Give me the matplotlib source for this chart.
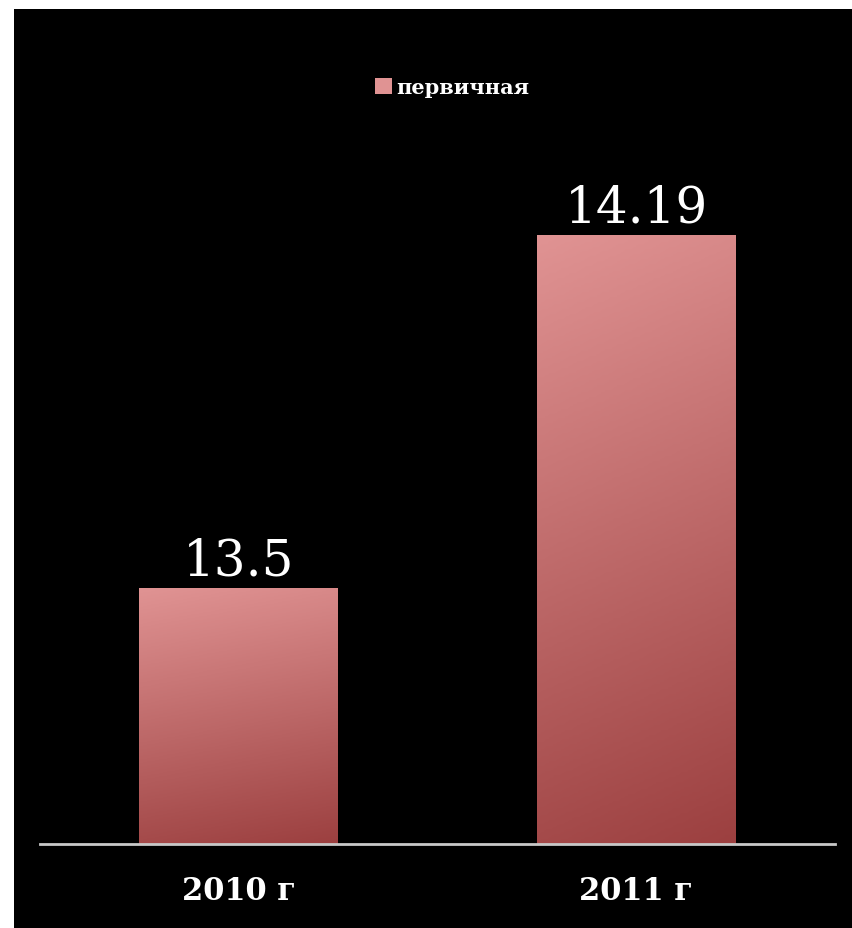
import numpy as np
import matplotlib
matplotlib.use('Agg')
import matplotlib.pyplot as plt
from matplotlib.colors import LinearSegmentedColormap
from matplotlib.patches import Rectangle

# ── Data ─────────────────────────────────────────────────────────
years = ['2010 г', '2011 г']
values = [13.5, 14.19]
series_name = 'первичная'

TOP_COLOR = '#e09393'
BOTTOM_COLOR = '#9c4040'
AXIS_COLOR = '#c8c8c8'

fig = plt.figure(figsize=(8.52, 9.29), dpi=100, facecolor='white')

# black slide background with a thin white margin on the left / top
fig.patches.append(Rectangle((14 / 852, 0), 1 - 14 / 852, 1 - 10 / 929,
                             transform=fig.transFigure, facecolor='black',
                             edgecolor='none', zorder=-10))

ax = fig.add_axes([40 / 852, 1 - 845 / 929, 795 / 852, (845 - 129) / 929])
ax.set_facecolor('none')
ax.set_zorder(1)

x = np.arange(len(years))
bars = ax.bar(x, np.array(values) - 13.0, bottom=13.0, width=0.5,
              facecolor='none', edgecolor='none')

# vertical gradient fill clipped to each bar
cmap = LinearSegmentedColormap.from_list('bar', [BOTTOM_COLOR, TOP_COLOR])
gx, gy = np.meshgrid(np.linspace(0, 1, 50), np.linspace(0, 1, 256))
grad = gy * 0.88 + (1 - gx) * 0.12
for b in bars:
    x0, y0 = b.get_x(), b.get_y()
    w, h = b.get_width(), b.get_height()
    im = ax.imshow(grad, cmap=cmap, origin='lower', aspect='auto',
                   extent=(x0, x0 + w, y0, y0 + h), vmin=0, vmax=1, zorder=2)
    im.set_clip_path(b)

ax.set_xlim(-0.5, 1.5)
ax.set_ylim(13.0, 14.4)

for xi, v in zip(x, values):
    ax.text(xi, v + 0.005, f'{v:g}', ha='center', va='bottom',
            color='white', fontsize=36, family='DejaVu Serif')

for s in ['top', 'left', 'right']:
    ax.spines[s].set_visible(False)
ax.spines['bottom'].set_color(AXIS_COLOR)
ax.spines['bottom'].set_linewidth(2)
ax.spines['bottom'].set_zorder(3)

ax.set_yticks([])
ax.set_xticks(x)
ax.set_xticklabels(years, color='white', fontsize=22, fontweight='bold',
                   family='DejaVu Serif')
ax.tick_params(axis='x', length=0, pad=22)

# legend
handle = Rectangle((0, 0), 1, 1, facecolor=TOP_COLOR, edgecolor='none')
leg = fig.legend([handle], [series_name], loc='center',
                 bbox_to_anchor=(452 / 852, 1 - 88 / 929), frameon=False,
                 handlelength=0.8, handleheight=0.8, handletextpad=0.2,
                 prop={'family': 'DejaVu Serif', 'weight': 'bold', 'size': 15})
for t in leg.get_texts():
    t.set_color('white')

fig.savefig('out.png', dpi=100, facecolor=fig.get_facecolor())
